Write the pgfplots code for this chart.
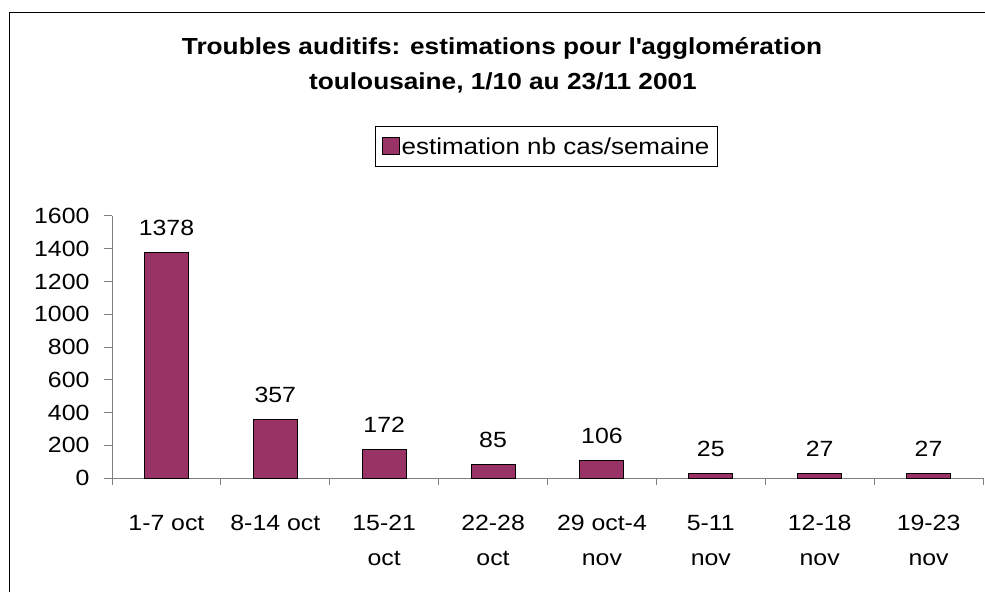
\documentclass[border=0pt]{standalone}
\usepackage{fontspec}
\setmainfont[FakeStretch=1.13]{Liberation Sans}
\usepackage{pgfplots}
\pgfplotsset{compat=1.18}
\definecolor{barplum}{HTML}{993366}
\begin{document}
\begin{tikzpicture}
\useasboundingbox (0pt,0pt) rectangle (985pt,592pt);
\draw[black, line width=1pt] (9pt,0pt) -- (9pt,579pt) -- (985pt,579pt);
\node[font=\fontsize{23.2}{35}\selectfont\bfseries, anchor=base, inner sep=0pt] at (502pt,537pt) {Troubles auditifs: estimations pour l\textquotesingle agglomération};
\node[font=\fontsize{23.2}{35}\selectfont\bfseries, anchor=base, inner sep=0pt] at (503pt,502pt) {toulousaine, 1/10 au 23/11 2001};
\begin{axis}[
  at={(112pt,114pt)}, anchor=south west,
  scale only axis, width=871pt, height=262pt,
  xmin=-0.5, xmax=7.5, ymin=0, ymax=1600,
  ytick={0,200,...,1600},
  xtick={0,...,7},
  xticklabels={{1-7 oct},{8-14 oct},{15-21\\oct},{22-28\\oct},{29 oct-4\\nov},{5-11\\nov},{12-18\\nov},{19-23\\nov}},
  minor xtick={-0.5,0.5,...,7.5},
  major x tick style={draw=none},
  minor tick length=7pt, major tick length=8pt,
  tick align=outside,
  tick style={gray, line width=1pt},
  axis x line*=bottom, axis y line*=left,
  axis line style={gray, line width=1pt, -},
  /pgf/number format/1000 sep={},
  /pgf/number format/assume math mode=true,
  tick label style={font=\fontsize{22}{35}\selectfont},
  xticklabel style={align=center, yshift=-26pt},
  yticklabel style={xshift=-11pt},
  ybar, bar width=44pt,
  nodes near coords,
  nodes near coords style={font=\fontsize{22}{35}\selectfont, anchor=base, yshift=17pt},
  legend style={at={(0.4989,1.265)}, anchor=center, draw=black, line width=0.8pt, font=\fontsize{23}{26}\selectfont, inner xsep=6pt, inner ysep=9pt},
  legend image code/.code={\draw[#1, draw=black, line width=0.8pt] (0pt,-8pt) rectangle (17pt,9pt);},
]
\addplot[fill=barplum, draw=black, line width=1pt] coordinates {(0,1378) (1,357) (2,172) (3,85) (4,106) (5,25) (6,27) (7,27)};
\addlegendentry{estimation nb cas/semaine}
\end{axis}
\end{tikzpicture}
\end{document}
